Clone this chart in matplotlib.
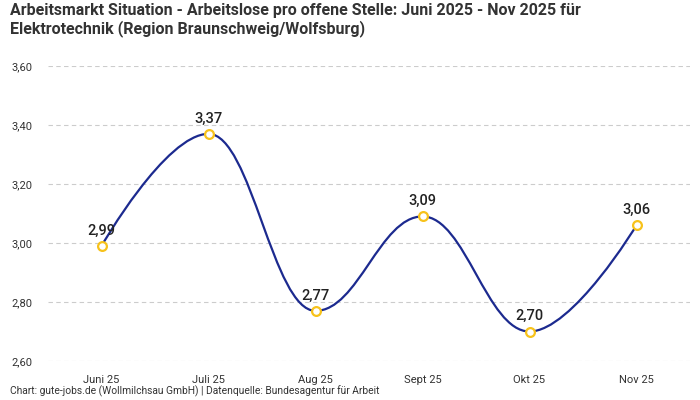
import numpy as np
import matplotlib
matplotlib.use("Agg")
import matplotlib.pyplot as plt
from matplotlib.path import Path
from matplotlib.patches import PathPatch
from matplotlib.ticker import FuncFormatter, MultipleLocator

months = ["Juni 25", "Juli 25", "Aug 25", "Sept 25", "Okt 25", "Nov 25"]
values = [2.99, 3.37, 2.77, 3.09, 2.70, 3.06]

title = ("Arbeitsmarkt Situation - Arbeitslose pro offene Stelle: Juni 2025 - Nov 2025 für\n"
         "Elektrotechnik (Region Braunschweig/Wolfsburg)")
credits = "Chart: gute-jobs.de (Wollmilchsau GmbH) | Datenquelle: Bundesagentur für Arbeit"

LINE = "#1c2a8f"
MARK = "#f7c21b"

plt.rcParams["font.family"] = ["Roboto", "DejaVu Sans"]


def spline_controls(xs, ys, smoothing=1.5):
    # highcharts style spline: control points per point
    denom = smoothing + 1
    n = len(xs)
    left = [None] * n
    right = [None] * n
    for i in range(1, n - 1):
        px, py = xs[i], ys[i]
        lx, ly = xs[i - 1], ys[i - 1]
        nx, ny = xs[i + 1], ys[i + 1]
        lcx = (smoothing * px + lx) / denom
        lcy = (smoothing * py + ly) / denom
        rcx = (smoothing * px + nx) / denom
        rcy = (smoothing * py + ny) / denom
        corr = (rcy - lcy) * (rcx - px) / (rcx - lcx) + py - rcy
        lcy += corr
        rcy += corr
        if lcy > ly and lcy > py:
            lcy = max(ly, py)
            rcy = 2 * py - lcy
        elif lcy < ly and lcy < py:
            lcy = min(ly, py)
            rcy = 2 * py - lcy
        if rcy > ny and rcy > py:
            rcy = max(ny, py)
            lcy = 2 * py - rcy
        elif rcy < ny and rcy < py:
            rcy = min(ny, py)
            lcy = 2 * py - rcy
        left[i] = (lcx, lcy)
        right[i] = (rcx, rcy)
    verts = [(xs[0], ys[0])]
    codes = [Path.MOVETO]
    for i in range(1, n):
        c1 = right[i - 1] or (xs[i - 1], ys[i - 1])
        c2 = left[i] or (xs[i], ys[i])
        verts += [c1, c2, (xs[i], ys[i])]
        codes += [Path.CURVE4] * 3
    return Path(verts, codes)


fig = plt.figure(figsize=(7, 4), dpi=100)
ax = fig.add_axes([48 / 700, 39 / 400, 642 / 700, 295 / 400])

x = np.arange(len(months))
ax.add_patch(PathPatch(spline_controls(x, values), fill=False, edgecolor=LINE, lw=1.6, zorder=3))
ax.scatter(x, values, s=40, facecolor="white", edgecolor=MARK, linewidths=1.6, zorder=4)

for xi, v in zip(x, values):
    ax.annotate(f"{v:.2f}".replace(".", ","), (xi, v), xytext=(0, 6), textcoords="offset points",
                ha="center", va="bottom", fontsize=10.5, fontweight="medium", color="#222222", zorder=5)

ax.set_xlim(-0.5, len(months) - 0.5)
ax.set_ylim(2.6, 3.6)
ax.yaxis.set_major_locator(MultipleLocator(0.2))
ax.yaxis.set_major_formatter(FuncFormatter(lambda v, p: f"{v:.2f}".replace(".", ",")))
ax.set_xticks(x)
ax.set_xticklabels(months)
ax.tick_params(axis="both", length=0, labelsize=8, colors="#333333")
ax.tick_params(axis="x", pad=10)
ax.tick_params(axis="y", pad=11)
ax.grid(axis="y", color="#cccccc", linestyle=(0, (4, 3)), lw=0.8)
ax.set_axisbelow(True)
for s in ax.spines.values():
    s.set_visible(False)

fig.text(10 / 700, 1 - 3 / 400, title, ha="left", va="top", fontsize=11.5, fontweight="bold",
         color="#333333", linespacing=1.15)
fig.text(10 / 700, 3 / 400, credits, ha="left", va="bottom", fontsize=7.35, color="#333333")

fig.savefig("out.png", dpi=100)
